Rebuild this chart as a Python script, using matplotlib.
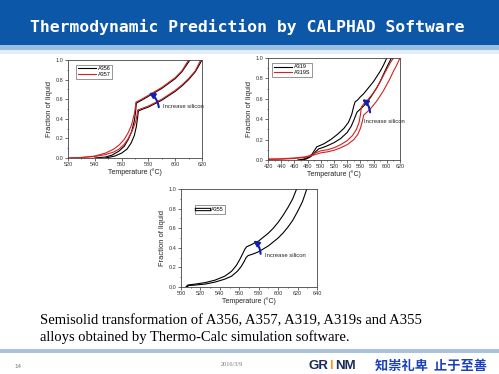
import numpy as np
import matplotlib
matplotlib.use("Agg")
import matplotlib.pyplot as plt
import matplotlib.patheffects as pe
from matplotlib.lines import Line2D
from matplotlib.ticker import MultipleLocator

plt.rcParams['font.family'] = ['Liberation Sans', 'DejaVu Sans']

# --- data ---
# panel 1: A356 (black) / A357 (red), two curves each
t_356_hi = [540, 548, 553, 558, 562, 565, 567.5, 569.5, 570.5, 571, 575, 580, 585, 590, 595, 600, 605, 611]
f_356_hi = [0.0, 0.01, 0.03, 0.07, 0.12, 0.19, 0.27, 0.38, 0.48, 0.56, 0.59, 0.63, 0.67, 0.71, 0.76, 0.81, 0.88, 1.0]
t_356_lo = [548, 555, 560, 564, 567, 569.5, 571, 572, 572.5, 576, 580, 585, 590, 595, 600, 605, 610, 615, 620]
f_356_lo = [0.0, 0.02, 0.05, 0.09, 0.15, 0.23, 0.32, 0.42, 0.48, 0.5, 0.52, 0.555, 0.59, 0.635, 0.68, 0.735, 0.8, 0.88, 1.0]
t_357_hi = [520, 530, 540, 548, 554, 558, 562, 565, 567.5, 569.5, 570.3, 570.7, 575, 580, 585, 590, 595, 600, 605, 610]
f_357_hi = [0.0, 0.005, 0.02, 0.05, 0.09, 0.13, 0.19, 0.26, 0.34, 0.45, 0.52, 0.57, 0.6, 0.64, 0.68, 0.72, 0.77, 0.82, 0.89, 1.0]
t_357_lo = [520, 530, 540, 548, 554, 558, 562, 565, 568, 570.5, 571.5, 572, 576, 580, 585, 590, 595, 600, 605, 610, 615, 619]
f_357_lo = [0.0, 0.005, 0.015, 0.035, 0.06, 0.09, 0.14, 0.2, 0.28, 0.37, 0.44, 0.49, 0.51, 0.53, 0.565, 0.6, 0.645, 0.69, 0.745, 0.81, 0.89, 1.0]

# panel 2: A319 (black) / A319S (red)
t_319_hi = [465, 475, 482, 487, 490, 494, 498, 505, 515, 525, 535, 542, 547, 550, 552, 556, 560, 565, 570, 575, 580, 585, 590, 595, 600]
f_319_hi = [0.0, 0.01, 0.03, 0.06, 0.09, 0.13, 0.14, 0.16, 0.2, 0.25, 0.31, 0.37, 0.45, 0.53, 0.57, 0.59, 0.62, 0.65, 0.69, 0.73, 0.77, 0.82, 0.87, 0.93, 1.0]
t_319_lo = [470, 478, 484, 488, 492, 497, 502, 510, 520, 530, 540, 546, 550, 553, 555, 560, 565, 570, 575, 580, 585, 590, 595, 600, 607]
f_319_lo = [0.0, 0.01, 0.03, 0.05, 0.08, 0.11, 0.12, 0.14, 0.17, 0.21, 0.27, 0.33, 0.39, 0.44, 0.47, 0.5, 0.53, 0.57, 0.61, 0.66, 0.71, 0.77, 0.84, 0.91, 1.0]
t_319s_hi = [420, 440, 460, 475, 485, 492, 500, 510, 520, 530, 540, 548, 554, 558, 560, 561.5, 565, 570, 575, 580, 585, 590, 595, 600, 605, 610]
f_319s_hi = [0.01, 0.012, 0.02, 0.03, 0.045, 0.07, 0.09, 0.1, 0.12, 0.15, 0.19, 0.24, 0.3, 0.37, 0.44, 0.52, 0.55, 0.58, 0.62, 0.66, 0.71, 0.77, 0.83, 0.89, 0.95, 1.0]
t_319s_lo = [420, 440, 460, 475, 485, 492, 500, 510, 520, 530, 540, 550, 556, 560, 563, 565, 570, 575, 580, 585, 590, 595, 600, 605, 610, 615, 620]
f_319s_lo = [0.005, 0.008, 0.015, 0.025, 0.04, 0.055, 0.07, 0.08, 0.095, 0.12, 0.15, 0.2, 0.25, 0.31, 0.38, 0.44, 0.47, 0.5, 0.54, 0.58, 0.63, 0.68, 0.74, 0.8, 0.87, 0.93, 1.0]

# panel 3: A355 (black)
t_355_hi = [505, 507, 515, 525, 535, 545, 552, 557, 561, 564, 566, 567.5, 572, 580, 585, 590, 595, 600, 605, 610, 615, 619]
f_355_hi = [0.0, 0.02, 0.03, 0.045, 0.07, 0.11, 0.16, 0.22, 0.29, 0.35, 0.39, 0.41, 0.43, 0.47, 0.51, 0.55, 0.6, 0.66, 0.73, 0.81, 0.9, 1.0]
t_355_lo = [506, 508, 515, 525, 535, 545, 552, 558, 562, 565, 567, 569, 575, 580, 585, 590, 595, 600, 605, 610, 615, 620, 625, 629.5]
f_355_lo = [0.0, 0.015, 0.02, 0.03, 0.05, 0.08, 0.11, 0.16, 0.21, 0.26, 0.3, 0.32, 0.34, 0.36, 0.39, 0.42, 0.46, 0.5, 0.55, 0.61, 0.68, 0.77, 0.87, 1.0]

W, H = 499, 374
fig = plt.figure(figsize=(W / 100, H / 100), dpi=100)

# slide background layer in pixel coords
bg = fig.add_axes([0, 0, 1, 1], zorder=0)
bg.set_xlim(0, W)
bg.set_ylim(H, 0)
bg.axis('off')
bg.add_patch(plt.Rectangle((0, 0), W, 45, color='#0d57a8', lw=0))
bg.add_patch(plt.Rectangle((0, 45), W, 5, color='#9cc0e4', lw=0))
bg.add_patch(plt.Rectangle((0, 50), W, 4, color='#e3eef8', lw=0))
bg.add_patch(plt.Rectangle((0, 349), W, 4, color='#a9c3dc', lw=0))
bg.text(30, 27, 'Thermodynamic Prediction by CALPHAD Software', color='white',
        fontsize=11.8, fontweight='bold', family='DejaVu Sans Mono', va='center', ha='left')
bg.text(40, 321, 'Semisolid transformation of A356, A357, A319, A319s and A355',
        family='Liberation Serif', fontsize=10.5, va='center')
bg.text(40, 337, 'alloys obtained by Thermo-Calc simulation software.',
        family='Liberation Serif', fontsize=10.5, va='center')
bg.text(14, 366, '14', fontsize=4.5, color='#777777', va='center')
bg.text(232, 365, '2016/3/9', fontsize=4.5, color='#777777', va='center', ha='center',
        family='Liberation Serif')
bg.text(309, 366, 'GR', fontsize=9.5, fontweight='bold', color='#1b2a5a', va='center')
bg.text(329, 366, 'I', fontsize=9.5, fontweight='bold', color='#f0a020', va='center')
bg.text(335, 366, 'NM', fontsize=9.5, fontweight='bold', color='#1b2a5a', va='center')
bg.text(431, 366, '知崇礼卑  止于至善', fontsize=9.5, fontweight='bold', color='#1a3fc0',
        va='center', ha='center', family=['Noto Sans CJK SC', 'DejaVu Sans'])


def panel(rect_px, xlim, xstep, series, legend_items, legend_anchor, arrow, text_pos,
          handlelength=3.2):
    x0, y0, x1, y1 = rect_px
    ax = fig.add_axes([x0 / W, 1 - y1 / H, (x1 - x0) / W, (y1 - y0) / H], zorder=2)
    for t, f, c in series:
        ax.plot(t, f, color=c, lw=0.8)
    ax.set_xlim(*xlim)
    ax.set_ylim(0, 1)
    ax.xaxis.set_major_locator(MultipleLocator(xstep))
    ax.xaxis.set_minor_locator(MultipleLocator(xstep / 2))
    ax.yaxis.set_major_locator(MultipleLocator(0.2))
    ax.yaxis.set_minor_locator(MultipleLocator(0.1))
    ax.yaxis.set_major_formatter(matplotlib.ticker.FormatStrFormatter('%.1f'))
    ax.tick_params(labelsize=4, length=2, width=0.5, pad=1, colors='#333333')
    ax.tick_params(which='minor', length=1, width=0.4)
    for s in ax.spines.values():
        s.set_linewidth(0.6)
        s.set_color('#444444')
    ax.set_xlabel('Temperature (°C)', fontsize=5, labelpad=1, color='#222222')
    ax.set_ylabel('Fraction of liquid', fontsize=5.4, labelpad=2, color='#222222')
    handles, labels = legend_items
    leg = ax.legend(handles, labels, loc='upper left', fontsize=4, frameon=True,
                    fancybox=False, edgecolor='#444444', handlelength=handlelength,
                    borderpad=0.3, labelspacing=0.15, handletextpad=0.4,
                    bbox_to_anchor=legend_anchor)
    leg.get_frame().set_linewidth(0.5)
    ax.annotate('', xy=arrow[1], xytext=arrow[0],
                arrowprops=dict(arrowstyle='-|>', color='#1020b0', lw=1.5,
                                connectionstyle='arc3,rad=0.3', mutation_scale=8))
    ax.text(text_pos[0], text_pos[1], 'Increase silicon', fontsize=4.2,
            va='center', ha='left', color='#222222')
    return ax


red = '#d42020'
panel((68, 60, 202, 158), (520, 620), 20,
      [(t_356_hi, f_356_hi, 'black'), (t_356_lo, f_356_lo, 'black'),
       (t_357_hi, f_357_hi, red), (t_357_lo, f_357_lo, red)],
      ([Line2D([], [], color='black', lw=0.8), Line2D([], [], color=red, lw=0.8)],
       ['A356', 'A357']), (0.04, 0.98),
      ((588, 0.49), (578.5, 0.68)), (591, 0.53))

panel((268, 58, 400, 160), (420, 620), 20,
      [(t_319_hi, f_319_hi, 'black'), (t_319_lo, f_319_lo, 'black'),
       (t_319s_hi, f_319s_hi, red), (t_319s_lo, f_319s_lo, red)],
      ([Line2D([], [], color='black', lw=0.8), Line2D([], [], color=red, lw=0.8)],
       ['A319', 'A319S']), (0.01, 0.98),
      ((575, 0.44), (559, 0.61)), (566, 0.38))

hollow = Line2D([], [], color='white', lw=0.9,
                path_effects=[pe.Stroke(linewidth=2.4, foreground='black'), pe.Normal()])
panel((181, 189, 317, 287), (500, 640), 20,
      [(t_355_hi, f_355_hi, 'black'), (t_355_lo, f_355_lo, 'black')],
      ([hollow], ['A355']), (0.08, 0.86),
      ((582, 0.31), (572, 0.49)), (586, 0.32), handlelength=2.2)

fig.savefig('out.png', dpi=100)
